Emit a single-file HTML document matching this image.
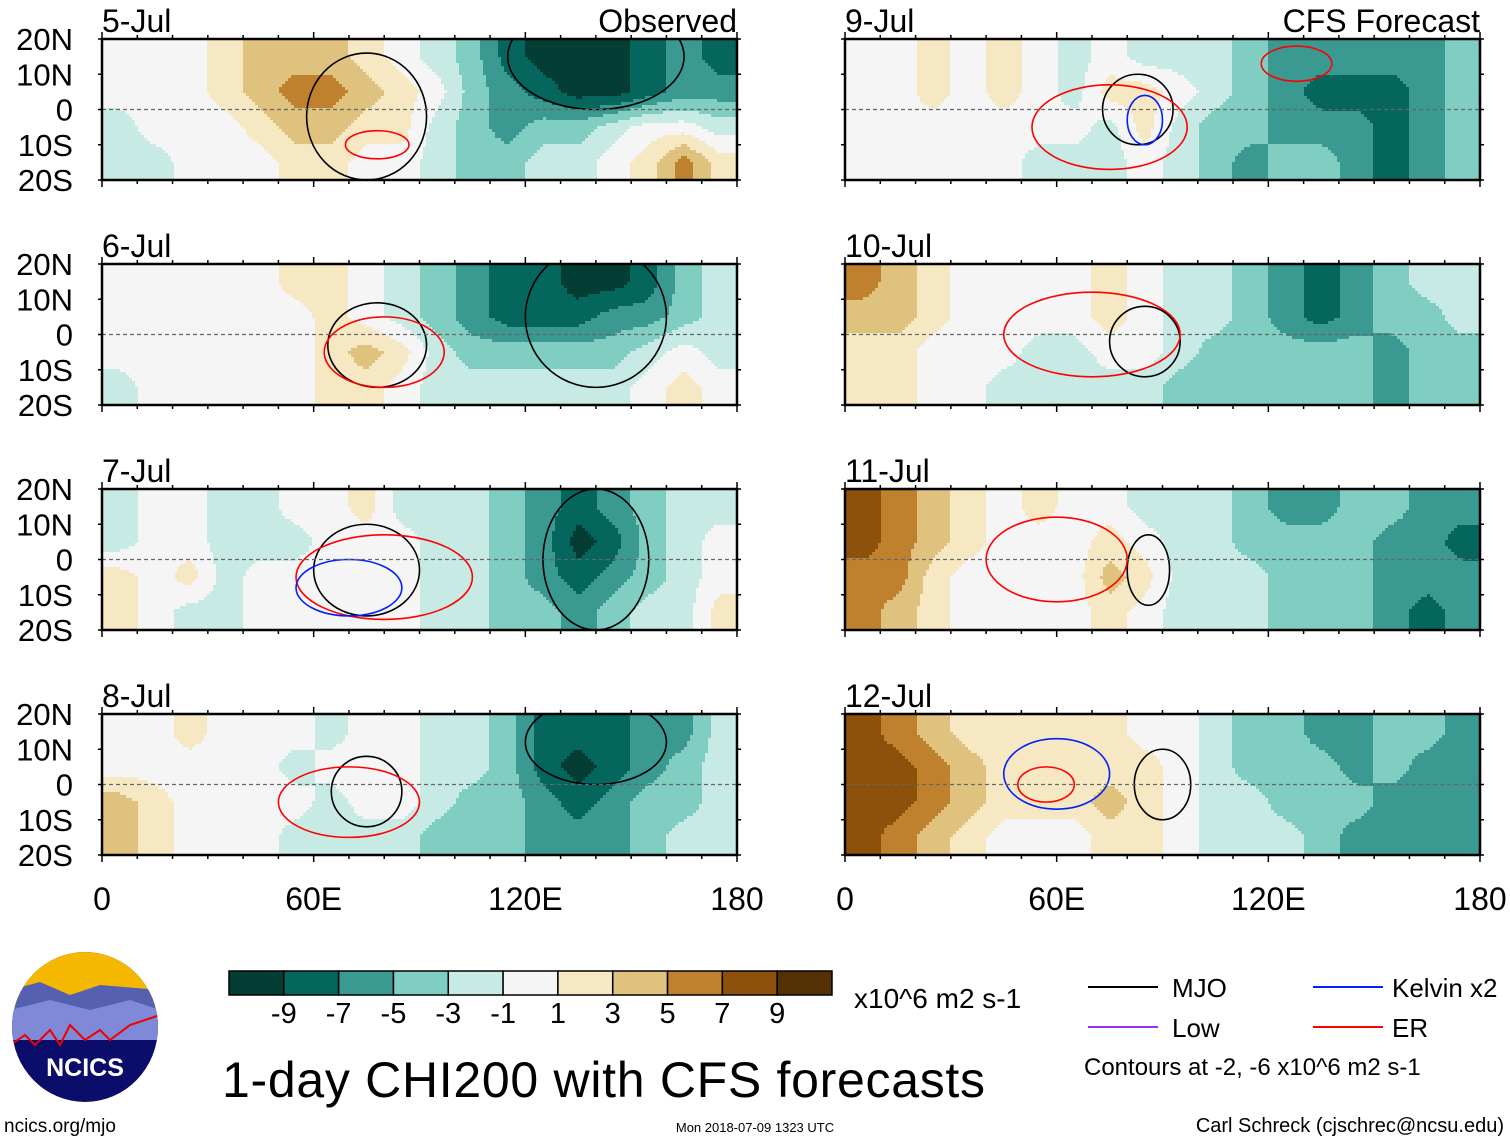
<!DOCTYPE html>
<html><head><meta charset="utf-8">
<style>
body{margin:0;background:#fff;}
svg{display:block;font-family:"Liberation Sans",sans-serif;}
</style></head>
<body>
<svg id="chart" width="1510" height="1142" viewBox="0 0 1510 1142">
<defs></defs>
</svg>
<script>
const levels=[-10,-8,-6,-4,-2,0,2,4,6,8,10];
const colors=["#033d33","#05665e","#3a9990","#80cdc1","#c7eae5","#f5f5f5","#f6e8c3","#dfc27d","#bf812d","#8c510a","#543005"];
const cbLabels=["-9","-7","-5","-3","-1","1","3","5","7","9"];
const lonTicks=[0,60,120,180];
const lonLabels=["0","60E","120E","180"];
const latTicks=[20,10,0,-10,-20];
const latLabels=["20N","10N","0","10S","20S"];
const panelTitles=["5-Jul","6-Jul","7-Jul","8-Jul","9-Jul","10-Jul","11-Jul","12-Jul"];
const rowLats=[15,5,-5,-15];
const p1=[[0,0,0,2,4,4,4,2,0,-2,-4,-8,-10,-10,-10,-8,-6,-8],[0,0,0,2,4,6,6,4,2,0,-4,-6,-8,-10,-10,-8,-6,-6],[-2,0,0,0,2,4,4,2,2,-2,-4,-6,-4,-4,-2,0,0,-2],[-2,-2,0,0,0,2,2,0,0,-2,-4,-4,-2,-2,0,2,6,2]];
const p2=[[0,0,0,0,0,2,2,0,-2,-4,-6,-8,-8,-10,-10,-8,-4,-2],[0,0,0,0,0,0,2,0,-2,-4,-6,-8,-8,-8,-6,-6,-4,-2],[0,0,0,0,0,0,2,4,2,-2,-4,-4,-4,-4,-4,-2,0,-2],[-2,0,0,0,0,0,2,2,0,-2,-2,-2,-2,-2,-2,0,2,0]];
const p3=[[-2,0,0,-2,-2,0,0,2,-2,-2,-2,-4,-6,-8,-6,-4,-2,-2],[-2,0,0,-2,-2,-2,0,0,0,-2,-2,-4,-6,-10,-8,-4,-2,0],[2,0,2,-2,0,0,0,0,0,-2,-2,-4,-6,-8,-6,-4,-2,0],[2,0,-2,-2,0,0,0,0,0,-2,-2,-4,-4,-6,-4,-2,-2,2]];
const p4=[[0,0,2,0,0,0,-2,0,0,-2,-2,-4,-8,-8,-8,-6,-6,-2],[0,0,0,0,0,-2,0,0,0,-2,-2,-4,-8,-10,-8,-6,-4,-2],[4,2,0,0,0,0,-2,0,0,-2,-4,-4,-6,-8,-6,-4,-4,-2],[4,2,0,0,0,-2,-2,-2,-2,-4,-4,-4,-6,-6,-6,-4,-2,-2]];
const p5=[[0,0,2,0,2,0,-2,0,-2,-2,-2,-4,-6,-6,-6,-6,-6,-4],[0,0,2,0,2,0,-2,2,2,0,-2,-4,-6,-8,-8,-8,-6,-4],[0,0,0,0,0,0,0,-2,2,-2,-4,-4,-6,-6,-6,-8,-6,-4],[0,0,0,0,0,-2,-2,-2,0,-2,-4,-6,-4,-4,-6,-8,-6,-4]];
const p6=[[6,4,2,0,0,0,0,2,0,-2,-2,-4,-6,-8,-6,-4,-2,-2],[4,4,2,0,0,0,0,2,0,-2,-2,-4,-6,-8,-6,-4,-4,-2],[2,2,0,0,0,-2,-2,0,0,-2,-4,-4,-4,-4,-4,-6,-4,-4],[2,2,0,0,-2,-2,-2,-2,-2,-4,-4,-4,-4,-4,-4,-6,-4,-4]];
const p7=[[8,6,4,2,0,2,0,0,-2,-2,-2,-4,-6,-6,-4,-4,-6,-6],[8,6,4,2,0,0,0,2,0,-2,-2,-4,-4,-4,-4,-6,-6,-8],[6,6,2,0,0,0,0,4,2,-2,-2,-2,-4,-4,-4,-6,-6,-6],[6,4,2,0,0,0,0,2,0,-2,-2,-2,-4,-4,-4,-6,-8,-6]];
const p8=[[8,6,4,2,2,2,2,2,0,0,-2,-4,-4,-6,-6,-4,-4,-6],[8,8,6,4,2,2,2,2,2,0,-2,-4,-4,-4,-6,-4,-6,-6],[8,8,6,4,2,2,2,4,2,0,-2,-2,-4,-4,-4,-6,-6,-6],[8,6,4,2,0,0,0,2,2,0,-2,-2,-2,-4,-6,-6,-6,-6]];
const panelData=[p1,p2,p3,p4,p5,p6,p7,p8];
// contour ellipses: [type, lon, lat, rlon, rlat]
const c1=[["mjo",75,-2,17,18],["er",78,-10,9,4],["mjo",140,15,25,15]];
const c2=[["mjo",78,-3,14,12],["er",80,-5,17,10],["mjo",140,5,20,20]];
const c3=[["mjo",75,-3,15,13],["er",80,-5,25,12],["kelvin",70,-8,15,8],["mjo",140,0,15,20]];
const c4=[["mjo",75,-2,10,10],["er",70,-5,20,10],["mjo",140,12,20,12]];
const c5=[["mjo",83,0,10,10],["er",75,-5,22,12],["kelvin",85,-3,5,7],["er",128,13,10,5]];
const c6=[["mjo",85,-2,10,10],["er",70,0,25,12]];
const c7=[["mjo",86,-3,6,10],["er",60,0,20,12]];
const c8=[["mjo",90,0,8,10],["er",57,0,8,5],["kelvin",60,3,15,10]];
const contours=[c1,c2,c3,c4,c5,c6,c7,c8];
const ctype={mjo:"#000",kelvin:"#0020ff",er:"#ff0000",low:"#9a30ff"};

const NS="http://www.w3.org/2000/svg";
const svg=document.getElementById('chart');
function mk(t,a,p){const e=document.createElementNS(NS,t);for(const k in a)e.setAttribute(k,a[k]);(p||svg).appendChild(e);return e;}
function colorIdx(v){let i=0;while(i<levels.length-1&&v>levels[i]+1)i++;return i;}
function sample(grid,lon,lat){
  let fx=(lon-5)/10, fy=(15-lat)/10;
  fx=Math.max(0,Math.min(grid[0].length-1,fx)); fy=Math.max(0,Math.min(grid.length-1,fy));
  const i0=Math.floor(fx),j0=Math.floor(fy),i1=Math.min(i0+1,grid[0].length-1),j1=Math.min(j0+1,grid.length-1);
  const tx=fx-i0,ty=fy-j0;
  const a=grid[j0][i0]*(1-tx)+grid[j0][i1]*tx, b=grid[j1][i0]*(1-tx)+grid[j1][i1]*tx;
  return a*(1-ty)+b*ty;
}
const PW=635,PH=141;
const panelX=[102,845],panelY=[39,264,489,714];
const STEP=3;

panelData.forEach((grid,pi)=>{
  const x0=panelX[pi<4?0:1],y0=panelY[pi%4];
  const xs=lon=>x0+lon/180*PW, ys=lat=>y0+(20-lat)/40*PH;
  const g=mk('g',{});
  
  
  const cid='clip'+pi;
  const cp=mk('clipPath',{id:cid},svg.querySelector('defs'));
  mk('rect',{x:x0,y:y0,width:PW,height:PH},cp);
  const cg=mk('g',{'clip-path':'url(#'+cid+')'},g);
  const fg=mk('g',{'shape-rendering':'crispEdges'},cg);
  
  
  for(let py=0;py<PH;py+=STEP){
    const lat=20-(py+STEP/2)/PH*40;
    let runStart=0,runC=-1;
    for(let px=0;;px+=STEP){
      const end=px>=PW;
      let c=-2;
      if(!end){const lon=Math.min(180,(px+STEP/2)/PW*180);c=colorIdx(sample(grid,lon,lat));}
      if(c!==runC||end){
        if(runC>=0){mk('rect',{x:x0+runStart,y:y0+py,width:Math.min(px,PW)-runStart+0.5,height:STEP+0.5,fill:colors[runC]},fg);}
        runStart=px;runC=c;
      }
      if(end)break;
    }
  }
  contours[pi].forEach(c=>{
    const e=mk('ellipse',{cx:xs(c[1]),cy:ys(c[2]),rx:c[3]/180*PW,ry:c[4]/40*PH,fill:'none',stroke:ctype[c[0]],'stroke-width':1.6},cg);
    
    
  });
  mk('line',{x1:x0,x2:x0+PW,y1:ys(0),y2:ys(0),stroke:'#666','stroke-dasharray':'4,3','stroke-width':1.2},g);
  mk('rect',{x:x0,y:y0,width:PW,height:PH,fill:'none',stroke:'#000','stroke-width':2.5},g);
  for(let l=0;l<=180;l+=10){
    const L=l%60===0?7:4;
    mk('line',{x1:xs(l),x2:xs(l),y1:y0-L,y2:y0,stroke:'#000','stroke-width':1.5},g);
    mk('line',{x1:xs(l),x2:xs(l),y1:y0+PH,y2:y0+PH+L,stroke:'#000','stroke-width':1.5},g);
  }
  latTicks.forEach((lt,i)=>{
    mk('line',{x1:x0-4,x2:x0,y1:ys(lt),y2:ys(lt),stroke:'#000','stroke-width':1.5},g);
    mk('line',{x1:x0+PW,x2:x0+PW+4,y1:ys(lt),y2:ys(lt),stroke:'#000','stroke-width':1.5},g);
    if(pi<4){const t=mk('text',{x:73,y:ys(lt)+11,'font-size':31,'text-anchor':'end'},g);t.textContent=latLabels[i];
      }
  });
  const tt=mk('text',{x:x0,y:y0-7,'font-size':32},g);tt.textContent=panelTitles[pi];
  
  if(pi===0||pi===4){const s=mk('text',{x:x0+PW,y:y0-7,'font-size':32,'text-anchor':'end'},g);s.textContent=pi===0?"Observed":"CFS Forecast";
    }
  if(pi===3||pi===7){lonTicks.forEach((l,i)=>{const t=mk('text',{x:xs(l),y:910,'font-size':32,'text-anchor':'middle'},g);t.textContent=lonLabels[i];
    });}
});

// colorbar
const cb=mk('g',{});


const cbw=603/colors.length;
colors.forEach((c,i)=>{mk('rect',{x:229+i*cbw,y:971,width:cbw,height:24,fill:c,stroke:'#000','stroke-width':1.5},cb);});
cbLabels.forEach((l,i)=>{const t=mk('text',{x:229+(i+1)*cbw,y:1023,'font-size':29,'text-anchor':'middle'},cb);t.textContent=l;});
const u=mk('text',{x:854,y:1008,'font-size':28},cb);u.textContent="x10^6 m2 s-1";
</script>
<div style="position:absolute;left:0;top:0;width:1510px;height:1142px;pointer-events:none;">
<svg width="1510" height="1142" style="position:absolute;left:0;top:0">
  <g>
    <clipPath id="logoclip"><ellipse cx="85" cy="1027" rx="73" ry="75"/></clipPath>
    <g clip-path="url(#logoclip)">
      <rect x="10" y="950" width="150" height="160" fill="#0b0d6b"/>
      <rect x="10" y="950" width="150" height="60" fill="#f5b800"/>
      <path d="M10 990 L40 982 L70 995 L100 985 L160 990 L160 1030 L10 1030Z" fill="#5560b0"/>
      <path d="M10 1010 L50 1000 L90 1010 L130 1000 L160 1010 L160 1040 L10 1040Z" fill="#8088d8"/>
      <path d="M10 1045 L25 1035 L35 1045 L50 1030 L60 1045 L70 1025 L85 1040 L100 1030 L110 1040 L130 1025 L160 1015" fill="none" stroke="#e00" stroke-width="2"/>
    </g>
    <text x="85" y="1076" font-size="25" font-weight="bold" fill="#fff" text-anchor="middle">NCICS</text>
  </g>
  <text x="4" y="1132" font-size="19">ncics.org/mjo</text>
  <text x="222" y="1097" font-size="50" textLength="763">1-day CHI200 with CFS forecasts</text>
  <text x="755" y="1132" font-size="13" text-anchor="middle">Mon 2018-07-09 1323 UTC</text>
  <text x="1504" y="1132" font-size="20" text-anchor="end">Carl Schreck (cjschrec@ncsu.edu)</text>
  <g>
    <line x1="1088" x2="1158" y1="987" y2="987" stroke="#000" stroke-width="2"/>
    <text x="1172" y="997" font-size="26">MJO</text>
    <line x1="1088" x2="1158" y1="1027" y2="1027" stroke="#9a30ff" stroke-width="2"/>
    <text x="1172" y="1037" font-size="26">Low</text>
    <line x1="1313" x2="1383" y1="987" y2="987" stroke="#0020ff" stroke-width="2"/>
    <text x="1392" y="997" font-size="26">Kelvin x2</text>
    <line x1="1313" x2="1383" y1="1027" y2="1027" stroke="#ff0000" stroke-width="2"/>
    <text x="1392" y="1037" font-size="26">ER</text>
    <text x="1084" y="1075" font-size="24">Contours at -2, -6 x10^6 m2 s-1</text>
  </g>
</svg>
</div>
</body></html>
